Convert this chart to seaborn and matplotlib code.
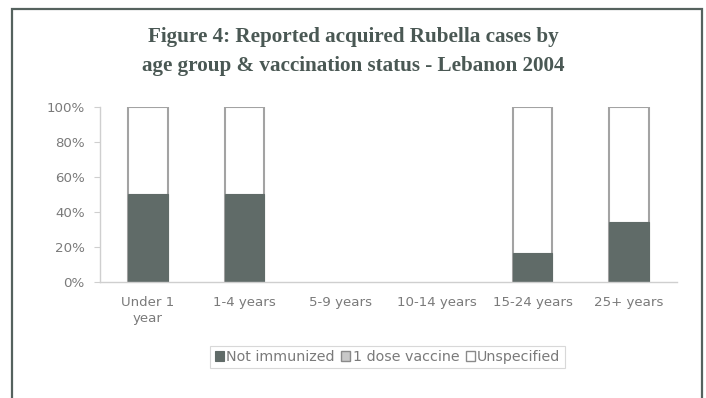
import numpy as np
import pandas as pd
import matplotlib
matplotlib.use("Agg")
import matplotlib.pyplot as plt
from matplotlib.patches import Patch, Rectangle
import seaborn as sns

# Share of reported acquired rubella cases (%) per age group
age_groups = ["Under 1\nyear", "1-4 years", "5-9 years", "10-14 years", "15-24 years", "25+ years"]
not_immunized = [50, 50, 0, 0, 16.7, 34.5]
one_dose = [0, 0, 0, 0, 0, 0]
unspecified = [50, 50, 0, 0, 83.3, 65.5]
series_names = ["Not immunized", "1 dose vaccine", "Unspecified"]
y_ticks = [0, 20, 40, 60, 80, 100]

dark = "#606b68"
light = "#c8c8c8"
edge = "#a3a3a3"
text_grey = "#7a7a7a"
frame_col = "#55625e"
title_col = "#4a5854"

sns.set_theme(style="white")
plt.rcParams["font.family"] = ["DejaVu Sans"]

fig = plt.figure(figsize=(7.06, 3.98), dpi=100)
ax = fig.add_axes([100 / 706, 1 - 282 / 398, 577 / 706, 175 / 398])

df = pd.DataFrame({
    "group": age_groups,
    "ni": not_immunized,
    "od": one_dose,
    "un": unspecified,
})
df["top_od"] = df["ni"] + df["od"]
df["top_un"] = df["top_od"] + df["un"]

bw = 0.41
# stacked bars: draw the tallest layer first, then overlay lower layers
sns.barplot(data=df, x="group", y="top_un", order=age_groups, color="white",
            edgecolor=edge, linewidth=1.5, width=bw, saturation=1, ax=ax)
sns.barplot(data=df, x="group", y="top_od", order=age_groups, color=light,
            edgecolor=edge, linewidth=0, width=bw, saturation=1, ax=ax)
sns.barplot(data=df, x="group", y="ni", order=age_groups, color=dark,
            edgecolor=dark, linewidth=0.8, width=bw, saturation=1, ax=ax)
for p in ax.patches:
    if p.get_height() == 0:
        p.set_visible(False)

ax.set_xlim(-0.5, 5.5)
ax.set_ylim(0, 100)
ax.set_yticks(y_ticks)
ax.set_yticklabels([f"{v}%" for v in y_ticks])
ax.set_xlabel("")
ax.set_ylabel("")
for s in ["top", "right"]:
    ax.spines[s].set_visible(False)
for s in ["left", "bottom"]:
    ax.spines[s].set_color("#cfcfcf")
    ax.spines[s].set_linewidth(1.0)
ax.tick_params(axis="y", length=4, width=0.8, color="#cfcfcf", pad=7,
               labelsize=9.6, labelcolor=text_grey, left=True)
ax.tick_params(axis="x", length=0, pad=10, labelsize=9.6, labelcolor=text_grey)
for lbl in ax.get_xticklabels():
    lbl.set_linespacing(1.35)

fig.text(0.5, 1 - 37 / 398, "Figure 4: Reported acquired Rubella cases by",
         ha="center", va="center", fontsize=15.2, fontweight="bold",
         family="Liberation Serif", color=title_col)
fig.text(0.5, 1 - 66 / 398, "age group & vaccination status - Lebanon 2004",
         ha="center", va="center", fontsize=15.2, fontweight="bold",
         family="Liberation Serif", color=title_col)

handles = [
    Patch(facecolor=dark, edgecolor=dark, linewidth=0.8),
    Patch(facecolor=light, edgecolor="#8a8a8a", linewidth=1.0),
    Patch(facecolor="white", edgecolor="#8a8a8a", linewidth=1.0),
]
leg = fig.legend(handles, series_names, loc="center", ncol=3,
                 bbox_to_anchor=(387.5 / 706, 1 - 357 / 398), fontsize=10.3,
                 frameon=True, fancybox=False, handlelength=0.65, handleheight=0.65,
                 handletextpad=0.15, columnspacing=0.45, borderpad=0.3,
                 labelcolor=text_grey, borderaxespad=0)
leg.get_frame().set_edgecolor("#cfcfcf")
leg.get_frame().set_linewidth(0.8)

# outer panel border, open at the bottom
fig.add_artist(Rectangle((11.5 / 706, -0.05), 690.5 / 706, 1.05 - 9.5 / 398,
                         transform=fig.transFigure, fill=False,
                         edgecolor=frame_col, linewidth=1.6))

fig.savefig("out.png", dpi=100, facecolor="white")
